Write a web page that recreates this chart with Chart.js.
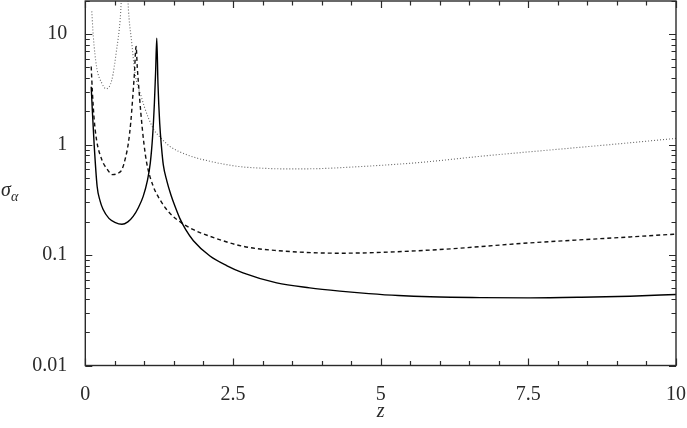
<!DOCTYPE html>
<html>
<head>
<meta charset="utf-8">
<script src="https://cdn.jsdelivr.net/npm/chart.js@4/dist/chart.umd.min.js"></script>
<style>
  html, body { margin: 0; padding: 0; background: #fff; }
  #wrap { width: 687px; height: 428px; position: relative; }
</style>
</head>
<body>
<div id="wrap"><canvas id="chart"></canvas></div>
<script>
// Values (log y axis)
const zSolid = [0.1, 0.12, 0.15, 0.2, 0.25, 0.3, 0.4, 0.5, 0.62, 0.72, 0.81, 0.9, 0.98, 1.05, 1.1, 1.14, 1.17, 1.19, 1.21, 1.23, 1.26, 1.29, 1.32, 1.38, 1.45, 1.52, 1.6, 1.7, 1.83, 2.11, 2.4, 2.67, 3.24, 3.8, 4.31, 4.8, 5.3, 5.84, 6.7, 7.53, 8.4, 9.22, 10];
const sigmaSolid = [3.35, 2.0, 1.0, 0.42, 0.31, 0.26, 0.215, 0.198, 0.19, 0.2, 0.224, 0.27, 0.34, 0.47, 0.68, 1.2, 2.4, 4.5, 9.2, 3.6, 1.55, 0.95, 0.66, 0.47, 0.35, 0.275, 0.215, 0.17, 0.135, 0.098, 0.08, 0.069, 0.056, 0.0505, 0.0472, 0.0448, 0.043, 0.0419, 0.0412, 0.041, 0.0415, 0.0424, 0.044];

const zDashed = [0.1, 0.12, 0.15, 0.19, 0.28, 0.37, 0.46, 0.55, 0.62, 0.68, 0.73, 0.77, 0.8, 0.83, 0.86, 0.88, 0.9, 0.94, 0.99, 1.04, 1.15, 1.26, 1.4, 1.55, 1.83, 2.11, 2.67, 3.24, 4.31, 5.84, 7.53, 9.22, 10];
const sigmaDashed = [5.1, 3.0, 1.7, 1.11, 0.73, 0.6, 0.535, 0.55, 0.594, 0.76, 1.04, 1.6, 2.55, 4.3, 7.76, 5.0, 3.6, 1.94, 1.05, 0.68, 0.42, 0.32, 0.25, 0.21, 0.17, 0.148, 0.12, 0.11, 0.104, 0.111, 0.129, 0.146, 0.155];

const zDotted = [0.11, 0.136, 0.19, 0.28, 0.35, 0.45, 0.53, 0.59, 0.665, 0.74, 0.78, 0.84, 0.95, 1.0, 1.07, 1.16, 1.3, 1.43, 1.72, 2.11, 2.59, 3.0, 3.41, 3.97, 4.54, 5.1, 5.67, 6.8, 7.92, 9.05, 10];
const sigmaDotted = [16.1, 9.5, 5.1, 3.6, 3.21, 3.87, 7.25, 13.5, 60, 14, 9, 4.5, 2.7, 2.2, 1.74, 1.37, 1.12, 0.965, 0.81, 0.707, 0.635, 0.612, 0.603, 0.607, 0.628, 0.655, 0.69, 0.795, 0.9, 1.02, 1.14];

const xTickLabels = [0, 2.5, 5, 7.5, 10];
const yTickLabels = [0.01, 0.1, 1, 10];

const FONT = '"Liberation Serif", "DejaVu Serif", serif';
const INK = '#2a2a2a';

function toPoints(xs, ys) {
    return xs.map((x, i) => ({ x: x, y: ys[i] }));
}

function lineDataset(xs, ys, color, width, dash) {
    return {
        data: toPoints(xs, ys),
        borderColor: color,
        borderWidth: width,
        borderDash: dash,
        pointRadius: 0,
        fill: false,
        cubicInterpolationMode: 'monotone'
    };
}

// Inward ticks on all four sides plus the frame
const frameTicks = {
    id: 'frameTicks',
    afterDatasetsDraw(chart) {
        const { ctx, chartArea: a, scales } = chart;
        const xs = scales.x, ys = scales.y;
        ctx.save();
        ctx.strokeStyle = INK;
        ctx.lineWidth = 1.2;
        ctx.beginPath();
        for (let v = 0; v <= 10.001; v += 0.5) {
            const px = Math.round(xs.getPixelForValue(v)) + 0.5;
            const len = (Math.abs(v / 2.5 - Math.round(v / 2.5)) < 1e-6) ? 7 : 4.5;
            ctx.moveTo(px, a.bottom); ctx.lineTo(px, a.bottom - len);
            ctx.moveTo(px, a.top); ctx.lineTo(px, a.top + len);
        }
        for (let k = -2; k <= 1; k++) {
            for (let m = 1; m <= 9; m++) {
                const v = m * Math.pow(10, k);
                if (v > ys.max + 1e-9) continue;
                const py = Math.round(ys.getPixelForValue(v)) + 0.5;
                const len = m === 1 ? 7 : 4.5;
                ctx.moveTo(a.left, py); ctx.lineTo(a.left + len, py);
                ctx.moveTo(a.right, py); ctx.lineTo(a.right - len, py);
            }
        }
        ctx.stroke();
        ctx.lineWidth = 1.4;
        ctx.strokeRect(a.left, a.top, a.right - a.left, a.bottom - a.top);

        // axis titles
        ctx.fillStyle = INK;
        ctx.textBaseline = 'alphabetic';
        ctx.textAlign = 'center';
        ctx.font = 'italic 20px ' + FONT;
        ctx.fillText('z', (a.left + a.right) / 2, 417);
        ctx.textAlign = 'left';
        ctx.fillText('σ', 1, 196);
        ctx.font = 'italic 14px ' + FONT;
        ctx.fillText('α', 11, 201);
        ctx.restore();
    }
};

new Chart(document.getElementById('chart'), {
    type: 'line',
    data: {
        datasets: [
            lineDataset(zSolid, sigmaSolid, '#000', 1.4, []),
            lineDataset(zDashed, sigmaDashed, '#111', 1.4, [4, 3]),
            lineDataset(zDotted, sigmaDotted, '#666', 1.1, [1, 2])
        ]
    },
    options: {
        responsive: true,
        maintainAspectRatio: false,
        animation: false,
        layout: { padding: { top: 1, right: 11, left: 0, bottom: 0 } },
        plugins: { legend: { display: false }, tooltip: { enabled: false } },
        scales: {
            x: {
                type: 'linear',
                min: 0,
                max: 10,
                grid: { display: false, drawTicks: false },
                border: { display: false },
                afterBuildTicks: (axis) => { axis.ticks = xTickLabels.map(v => ({ value: v })); },
                afterFit: (axis) => {
                    axis.height = 62.5;
                    axis.paddingLeft = 0;
                    axis.paddingRight = 0;
                },
                ticks: {
                    padding: 17,
                    color: INK,
                    maxRotation: 0,
                    font: { family: FONT, size: 20 },
                    callback: (v) => String(v)
                }
            },
            y: {
                type: 'logarithmic',
                min: 0.01,
                max: 20,
                grid: { display: false, drawTicks: false },
                border: { display: false },
                afterBuildTicks: (axis) => { axis.ticks = yTickLabels.map(v => ({ value: v })); },
                afterFit: (axis) => {
                    axis.width = 85.3;
                    axis.paddingTop = 0;
                    axis.paddingBottom = 0;
                },
                ticks: {
                    padding: 18,
                    color: INK,
                    font: { family: FONT, size: 20 },
                    callback: (v) => String(v)
                }
            }
        }
    },
    plugins: [frameTicks]
});
</script>
</body>
</html>
